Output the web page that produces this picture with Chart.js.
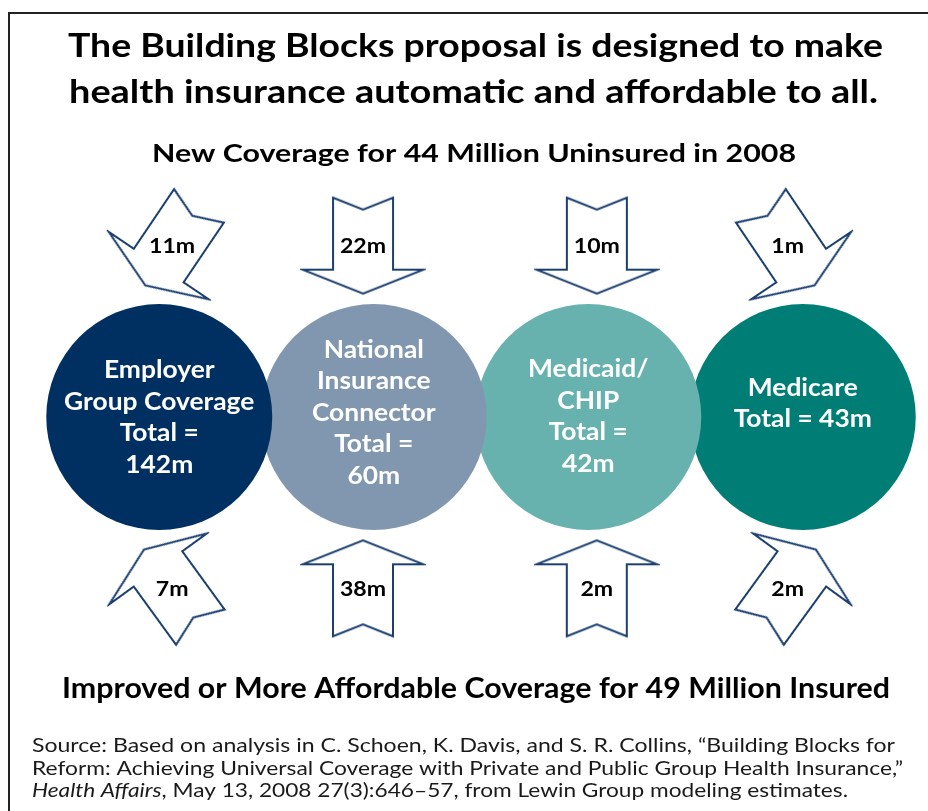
<!DOCTYPE html>
<html>
<head>
<meta charset="utf-8">
<title>Building Blocks</title>
<script src="https://cdn.jsdelivr.net/npm/chart.js@4.4.1/dist/chart.umd.min.js"></script>
<style>
  html, body { margin: 0; padding: 0; background: #fff; }
  #wrap { width: 928px; height: 811px; }
</style>
</head>
<body>
<div id="wrap"><canvas id="blocksChart" width="928" height="811"></canvas></div>
<script>
// coverage pools and flows (millions)
const categories = ['Employer Group Coverage', 'National Insurance Connector', 'Medicaid/CHIP', 'Medicare'];
const totals = [142, 60, 42, 43];
const newCoverage = [11, 22, 10, 1];        // uninsured gaining coverage
const improvedCoverage = [7, 38, 2, 2];     // insured with better or cheaper coverage

// how each pool name is broken inside its circle
const nameLines = [['Employer', 'Group Coverage'], ['National', 'Insurance', 'Connector'], ['Medicaid/', 'CHIP'], ['Medicare']];
const totalOnNameLine = [false, false, false, true];

const circleColors = ['#003062', '#8197b0', '#67b2ae', '#007e76'];
const labelLift = [0, 5, 1, 14];
const arrowShift = [0.06, -0.05, 0.04, -0.07];
const topTilt = [34, 0, 0, -34];
const bottomTilt = [144, 180, 180, 216];

const FONT = 'Lato, "Open Sans", sans-serif';
const ARROW_BLUE = '#1a3f70';

// block arrow (pointing down) used as point style
function makeArrow() {
    const c = document.createElement('canvas');
    c.width = 126;
    c.height = 100;
    const g = c.getContext('2d');
    g.translate(63, 50);
    const pts = [[-30, -48], [0, -36], [30, -48], [30, 24], [60.5, 24], [0, 48], [-60.5, 24], [-30, 24]];
    g.beginPath();
    pts.forEach(([x, y], k) => k ? g.lineTo(x, y) : g.moveTo(x, y));
    g.closePath();
    g.fillStyle = '#fff';
    g.fill();
    g.lineWidth = 2;
    g.lineJoin = 'miter';
    g.strokeStyle = ARROW_BLUE;
    g.stroke();
    return c;
}
const arrowImg = makeArrow();

// stretch a line of text to the given width
function fitText(ctx, text, x, y, width, align) {
    const w = ctx.measureText(text).width;
    ctx.save();
    ctx.translate(x, y);
    ctx.scale(width / w, 1);
    ctx.textAlign = align || 'center';
    ctx.fillText(text, 0, 0);
    ctx.restore();
}

// widen text a little, centred on x
function wideText(ctx, text, x, y, k) {
    ctx.save();
    ctx.translate(x, y);
    ctx.scale(k, 1);
    ctx.fillText(text, 0, 0);
    ctx.restore();
}

const pageText = {
    id: 'pageText',
    beforeDraw(chart) {
        const ctx = chart.ctx;
        ctx.save();
        ctx.fillStyle = '#fff';
        ctx.fillRect(0, 0, chart.width, chart.height);
        ctx.strokeStyle = '#222';
        ctx.lineWidth = 2;
        ctx.strokeRect(9, 13, 1000, 1000);

        ctx.fillStyle = '#000';
        ctx.textBaseline = 'alphabetic';
        ctx.font = 'bold 33px ' + FONT;
        fitText(ctx, 'The Building Blocks proposal is designed to make', 475.5, 57, 815);
        fitText(ctx, 'health insurance automatic and affordable to all.', 473.5, 103, 809);
        ctx.font = 'bold 25px ' + FONT;
        fitText(ctx, 'New Coverage for 44 Million Uninsured in 2008', 474, 162, 644);
        ctx.font = 'bold 28px ' + FONT;
        fitText(ctx, 'Improved or More Affordable Coverage for 49 Million Insured', 476, 698, 828);

        ctx.fillStyle = '#1a1a1a';
        ctx.font = '19px ' + FONT;
        fitText(ctx, 'Source: Based on analysis in C. Schoen, K. Davis, and S. R. Collins, \u201cBuilding Blocks for', 32, 752, 863, 'left');
        fitText(ctx, 'Reform: Achieving Universal Coverage with Private and Public Group Health Insurance,\u201d', 32, 775, 871, 'left');

        // last line mixes italic journal name with roman text
        const ital = 'Health Affairs';
        const rest = ', May 13, 2008 27(3):646\u201357, from Lewin Group modeling estimates.';
        ctx.font = 'italic 19px ' + FONT;
        const wi = ctx.measureText(ital).width;
        ctx.font = '19px ' + FONT;
        const wr = ctx.measureText(rest).width;
        const k = 816 / (wi + wr);
        ctx.save();
        ctx.translate(32, 797);
        ctx.scale(k, 1);
        ctx.textAlign = 'left';
        ctx.font = 'italic 19px ' + FONT;
        ctx.fillText(ital, 0, 0);
        ctx.font = '19px ' + FONT;
        ctx.fillText(rest, wi, 0);
        ctx.restore();
        ctx.restore();
    },
    afterDatasetsDraw(chart) {
        const ctx = chart.ctx;
        ctx.save();
        ctx.textAlign = 'center';
        ctx.textBaseline = 'alphabetic';

        // pool names and totals inside the circles
        const circles = chart.getDatasetMeta(0);
        ctx.fillStyle = '#fff';
        ctx.font = 'bold 24px ' + FONT;
        circles.data.forEach((el, j) => {
            const i = chart.data.datasets[0].data[j].i;
            const lines = totalOnNameLine[i]
                ? [...nameLines[i], 'Total = ' + totals[i] + 'm']
                : [...nameLines[i], 'Total =', totals[i] + 'm'];
            const lh = 31.5;
            let y = el.y - labelLift[i] - (lines.length - 1) * lh / 2 + 8.5;
            lines.forEach(t => {
                wideText(ctx, t, el.x, y, 1.1);
                y += lh;
            });
        });

        // flow sizes on the arrows
        ctx.fillStyle = '#000';
        ctx.font = 'bold 21px ' + FONT;
        ctx.textBaseline = 'middle';
        [[1, newCoverage], [2, improvedCoverage]].forEach(([d, vals]) => {
            chart.getDatasetMeta(d).data.forEach((el, i) => {
                wideText(ctx, vals[i] + 'm', el.x, el.y + 1, 1.1);
            });
        });
        ctx.restore();
    }
};

const drawOrder = categories.map((c, i) => i).reverse();

new Chart(document.getElementById('blocksChart').getContext('2d'), {
    type: 'bubble',
    data: {
        datasets: [{
            label: 'Total coverage',
            data: drawOrder.map(i => ({ x: i, y: 0, i: i })),
            backgroundColor: drawOrder.map(i => circleColors[i]),
            borderWidth: 0,
            radius: 113,
            clip: false
        }, {
            label: 'New coverage',
            data: newCoverage.map((v, i) => ({ x: i + arrowShift[i], y: 1 })),
            pointStyle: arrowImg,
            rotation: topTilt,
            radius: 10,
            clip: false
        }, {
            label: 'Improved coverage',
            data: improvedCoverage.map((v, i) => ({ x: i + arrowShift[i], y: -1 })),
            pointStyle: arrowImg,
            rotation: bottomTilt,
            radius: 10,
            clip: false
        }]
    },
    options: {
        responsive: false,
        devicePixelRatio: 1,
        animation: false,
        events: [],
        layout: {
            autoPadding: false,
            padding: { left: 52, right: 18, top: 160, bottom: 137 }
        },
        plugins: {
            legend: { display: false },
            title: { display: false },
            tooltip: { enabled: false }
        },
        scales: {
            x: { type: 'linear', min: -0.5, max: 3.5, display: false },
            y: { type: 'linear', min: -1.5, max: 1.5, display: false }
        }
    },
    plugins: [pageText]
});
</script>
</body>
</html>
